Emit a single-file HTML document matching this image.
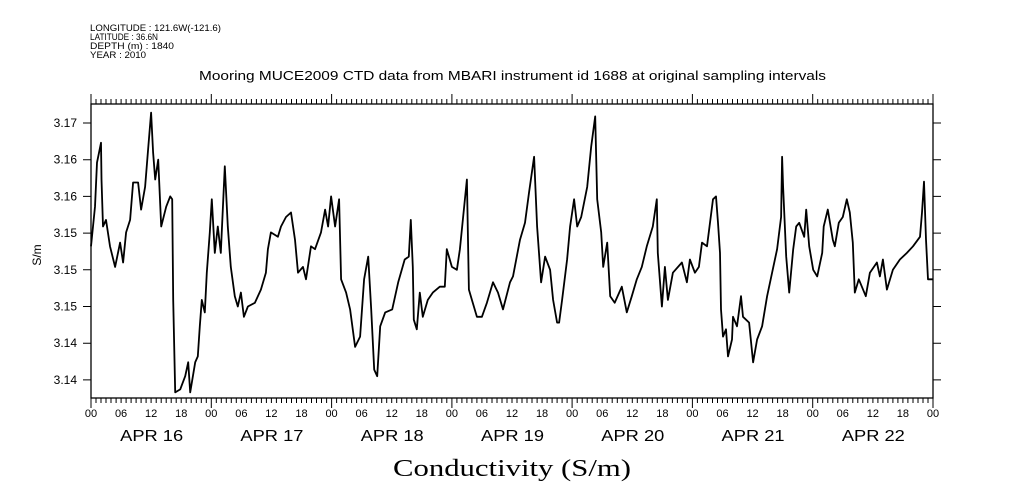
<!DOCTYPE html>
<html><head><meta charset="utf-8"><style>
body{margin:0;background:#fff;}
svg{display:block;font-family:"Liberation Sans",sans-serif;}
</style></head><body>
<svg id="chart" width="1009" height="504" viewBox="0 0 1009 504">
<rect width="1009" height="504" fill="#fff"/>
<g font-size="9" fill="#000">
<text x="90" y="31" textLength="131" lengthAdjust="spacingAndGlyphs">LONGITUDE : 121.6W(-121.6)</text>
<text x="90" y="40" textLength="68" lengthAdjust="spacingAndGlyphs">LATITUDE : 36.6N</text>
<text x="90" y="49" textLength="84" lengthAdjust="spacingAndGlyphs">DEPTH (m) : 1840</text>
<text x="90" y="58" textLength="56" lengthAdjust="spacingAndGlyphs">YEAR : 2010</text>
</g>
<text x="199" y="80" font-size="13" textLength="627" lengthAdjust="spacingAndGlyphs">Mooring MUCE2009 CTD data from MBARI instrument id 1688 at original sampling intervals</text>
<text x="0" y="0" font-size="12" text-anchor="middle" transform="translate(41,255) rotate(-90)">S/m</text>
<text x="393" y="476" font-size="24" textLength="238" lengthAdjust="spacingAndGlyphs" font-family="Liberation Serif, serif">Conductivity (S/m)</text>
<g id="axes"></g>
<g id="series"></g>
</svg>
<script>
const hours=[0,0.8,1.2,2.0,2.1,2.4,3.0,3.8,4.8,5.8,6.4,7.0,7.8,8.4,9.4,10.0,10.8,11.4,12.0,12.4,12.8,13.4,14.0,15.0,15.8,16.2,16.4,16.8,17.8,18.8,19.4,19.8,20.8,21.3,21.7,22.1,22.7,23.1,23.7,24.1,24.7,25.3,25.9,26.7,27.3,27.9,28.7,29.3,29.9,30.5,31.3,32.7,33.9,34.9,35.3,35.9,37.3,37.9,38.9,39.9,40.7,41.3,42.3,42.9,43.9,44.7,45.9,46.7,47.3,47.9,48.7,49.5,49.9,50.9,51.7,52.7,53.7,54.5,55.3,55.9,56.5,57.1,57.7,58.7,60.1,61.3,62.6,63.4,63.8,64.2,64.4,65.0,65.6,66.2,67.2,68.2,69.6,70.6,71.0,72.0,73.0,73.6,74.6,75.0,75.4,76.0,77.0,78.0,79.0,80.2,81.2,82.2,83.6,84.2,85.6,86.6,87.4,88.4,89.0,89.8,90.6,91.6,92.2,93.0,93.4,94.0,95.0,95.6,96.4,97.0,97.8,99.0,99.8,100.6,101.0,101.8,102.2,103.0,103.6,104.5,105.9,106.9,107.9,108.9,109.9,110.9,112.1,112.9,113.1,113.9,114.5,115.1,116.1,117.9,118.9,119.5,120.5,121.3,121.9,122.9,123.5,124.1,124.7,125.1,125.5,125.7,126.1,126.7,127.1,127.9,128.1,128.9,129.7,130.1,131.3,132.1,132.9,133.9,134.9,135.9,136.9,137.7,137.9,138.1,138.7,139.3,140.1,140.7,141.3,142.3,142.7,143.3,144.1,144.9,145.9,146.2,147.0,148.0,148.4,149.2,150.0,150.8,151.4,152.0,152.4,153.2,154.6,155.4,156.8,157.4,158.0,158.8,160.0,161.4,162.8,164.0,165.4,165.8,166.2,166.6,167.0,168.0];
const conductivity=[3.1532,3.1586,3.1646,3.1673,3.1623,3.1559,3.1568,3.1532,3.1504,3.1537,3.1510,3.1551,3.1568,3.1619,3.1619,3.1582,3.1613,3.1664,3.1714,3.1660,3.1623,3.1650,3.1559,3.1586,3.1600,3.1596,3.1459,3.1333,3.1337,3.1355,3.1374,3.1333,3.1374,3.1382,3.1423,3.1459,3.1442,3.1496,3.1551,3.1596,3.1523,3.1559,3.1523,3.1641,3.1559,3.1504,3.1464,3.1450,3.1469,3.1436,3.1450,3.1455,3.1473,3.1496,3.1528,3.1551,3.1545,3.1559,3.1572,3.1578,3.1541,3.1496,3.1504,3.1487,3.1532,3.1528,3.1551,3.1582,3.1559,3.1600,3.1559,3.1596,3.1487,3.1469,3.1446,3.1395,3.1409,3.1487,3.1518,3.1446,3.1364,3.1355,3.1423,3.1442,3.1446,3.1483,3.1514,3.1518,3.1568,3.1504,3.1432,3.1419,3.1469,3.1436,3.1459,3.1469,3.1477,3.1477,3.1528,3.1504,3.1500,3.1528,3.1596,3.1623,3.1473,3.1459,3.1436,3.1436,3.1455,3.1483,3.1469,3.1446,3.1483,3.1491,3.1541,3.1564,3.1605,3.1654,3.1559,3.1483,3.1518,3.1500,3.1459,3.1428,3.1428,3.1459,3.1514,3.1559,3.1596,3.1559,3.1572,3.1613,3.1668,3.1709,3.1596,3.1551,3.1504,3.1537,3.1464,3.1455,3.1477,3.1442,3.1464,3.1487,3.1504,3.1532,3.1559,3.1596,3.1523,3.1450,3.1504,3.1459,3.1496,3.1510,3.1483,3.1514,3.1496,3.1504,3.1537,3.1532,3.1564,3.1596,3.1600,3.1564,3.1523,3.1446,3.1409,3.1419,3.1382,3.1405,3.1436,3.1423,3.1464,3.1436,3.1428,3.1374,3.1405,3.1423,3.1464,3.1496,3.1528,3.1572,3.1654,3.1613,3.1518,3.1469,3.1528,3.1559,3.1564,3.1545,3.1582,3.1532,3.1500,3.1491,3.1523,3.1559,3.1582,3.1541,3.1532,3.1564,3.1572,3.1596,3.1578,3.1537,3.1469,3.1487,3.1464,3.1496,3.1510,3.1491,3.1514,3.1473,3.1500,3.1514,3.1523,3.1532,3.1545,3.1578,3.1620,3.1541,3.1487,3.1487];
const yTickValues=[3.170,3.165,3.160,3.155,3.150,3.145,3.140,3.135];
const yTickLabels=["3.17","3.16","3.16","3.15","3.15","3.15","3.14","3.14"];
const hourLabels=["00","06","12","18"];
const dayLabels=["APR 16","APR 17","APR 18","APR 19","APR 20","APR 21","APR 22"];

const L=91,R=933,T=104,B=398;
const xs=h=>L+h*(R-L)/168;
const ys=v=>123+(3.170-v)*7340;
const NS="http://www.w3.org/2000/svg";
const axes=document.getElementById('axes');
const series=document.getElementById('series');
function mk(tag,attrs,parent){const e=document.createElementNS(NS,tag);for(const k in attrs)e.setAttribute(k,attrs[k]);parent.appendChild(e);return e;}

const frame=mk('rect',{x:L,y:T,width:R-L,height:B-T,fill:'none',stroke:'#000','stroke-width':1.3},axes);



let d='';
for(let h=0;h<=168;h++){
  const x=xs(h).toFixed(1);
  const len=(h%24===0)?10:5;
  d+=`M${x} ${B}V${B+len}M${x} ${T}V${T-len}`;
}
yTickValues.forEach(v=>{const y=ys(v).toFixed(1);d+=`M${L} ${y}H${L-8}M${R} ${y}H${R+8}`;});
const ticks=mk('path',{d:d,stroke:'#000','stroke-width':1,fill:'none'},axes);



yTickValues.forEach((v,i)=>{
  const t=mk('text',{x:L-14,y:ys(v)+4,'font-size':12,'text-anchor':'end'},axes);
  t.textContent=yTickLabels[i];
  
  
});
for(let h=0;h<=168;h+=6){
  const t=mk('text',{x:xs(h),y:417,'font-size':11,'text-anchor':'middle'},axes);
  t.textContent=hourLabels[(h/6)%4];
  
  
}
dayLabels.forEach((lab,i)=>{
  const t=mk('text',{x:xs(i*24+12)-31,y:441,'font-size':16,textLength:63,lengthAdjust:'spacingAndGlyphs'},axes);
  t.textContent=lab;
  
  
});

const pts=hours.map((h,i)=>xs(h).toFixed(1)+','+ys(conductivity[i]).toFixed(1)).join(' ');
const line=mk('polyline',{points:pts,fill:'none',stroke:'#000','stroke-width':1.8,'stroke-linejoin':'round'},series);


</script>
</body></html>
